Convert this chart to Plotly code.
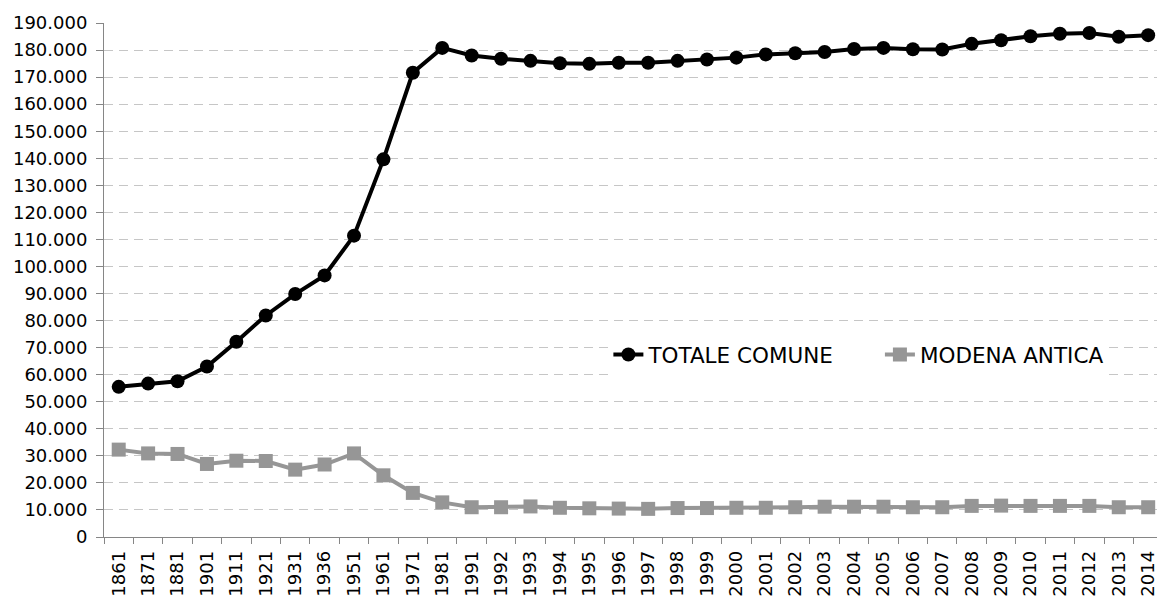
import plotly.graph_objects as go

years = ["1861", "1871", "1881", "1901", "1911", "1921", "1931", "1936", "1951", "1961",
         "1971", "1981", "1991", "1992", "1993", "1994", "1995", "1996", "1997", "1998",
         "1999", "2000", "2001", "2002", "2003", "2004", "2005", "2006", "2007", "2008",
         "2009", "2010", "2011", "2012", "2013", "2014"]

totale_comune = [55500, 56700, 57600, 63000, 72200, 81900, 89800, 96700, 111400, 139600,
                 171600, 180800, 178000, 176800, 176000, 175100, 174900, 175300, 175300, 176000,
                 176500, 177200, 178400, 178800, 179300, 180400, 180800, 180300, 180200, 182300,
                 183600, 185100, 186000, 186300, 184900, 185500]

modena_antica = [32300, 30900, 30700, 27000, 28200, 28100, 24900, 26800, 30900, 22800,
                 16300, 12800, 11000, 11000, 11300, 10800, 10600, 10500, 10400, 10700,
                 10700, 10800, 10800, 11000, 11200, 11200, 11200, 11000, 11000, 11500,
                 11600, 11500, 11500, 11500, 11000, 11000]

y_max = 190000
y_step = 10000
grid_vals = list(range(y_step, y_max, y_step))  # gridlines 10.000 .. 180.000

FONT = "DejaVu Sans, Verdana, sans-serif"
NB = "\u00a0"

fig = go.Figure()
fig.add_trace(go.Scatter(
    x=years, y=totale_comune, name="TOTALE COMUNE" + NB * 6,
    mode="lines+markers",
    line=dict(color="#000000", width=4),
    marker=dict(symbol="circle", size=14, color="#000000"),
))
fig.add_trace(go.Scatter(
    x=years, y=modena_antica, name="MODENA ANTICA",
    mode="lines+markers",
    line=dict(color="#969696", width=4),
    marker=dict(symbol="square", size=14, color="#969696"),
))

fig.update_layout(
    template="none",
    width=1157, height=598,
    margin=dict(l=104, r=0, t=23, b=61),
    paper_bgcolor="white", plot_bgcolor="white",
    separators=",.",
    font=dict(family=FONT, size=18, color="#000000"),
    showlegend=True,
    legend=dict(
        orientation="h", x=0.479, y=0.355, xanchor="left", yanchor="middle",
        bgcolor="white", font=dict(family=FONT, size=21.5, color="#000000"),
        itemsizing="trace",
    ),
    xaxis=dict(
        type="category", range=[-0.5, 35.3],
        tickmode="array", tickvals=years, ticktext=[y + NB for y in years],
        showgrid=False, zeroline=False,
        showline=True, linecolor="#868686", linewidth=1,
        ticks="outside", ticklen=6, tickcolor="#868686", tickson="boundaries",
        tickangle=-90,
        tickfont=dict(family=FONT, size=18, color="#000000"),
        automargin=False,
    ),
    yaxis=dict(
        range=[0, y_max], dtick=y_step, tickformat=",d",
        showgrid=False,
        minor=dict(tickvals=grid_vals, showgrid=True, gridcolor="#c6c6c6",
                   gridwidth=1, griddash="9px,6px", ticks=""),
        zeroline=False,
        showline=True, linecolor="#868686", linewidth=1,
        ticks="outside", ticklen=7, tickcolor="#868686",
        ticklabelstandoff=5,
        tickfont=dict(family=FONT, size=18, color="#000000"),
        automargin=False,
    ),
)

fig.write_html("out.html", config={"displayModeBar": False},
               post_script="document.body.style.margin='0';document.body.style.padding='0';")
